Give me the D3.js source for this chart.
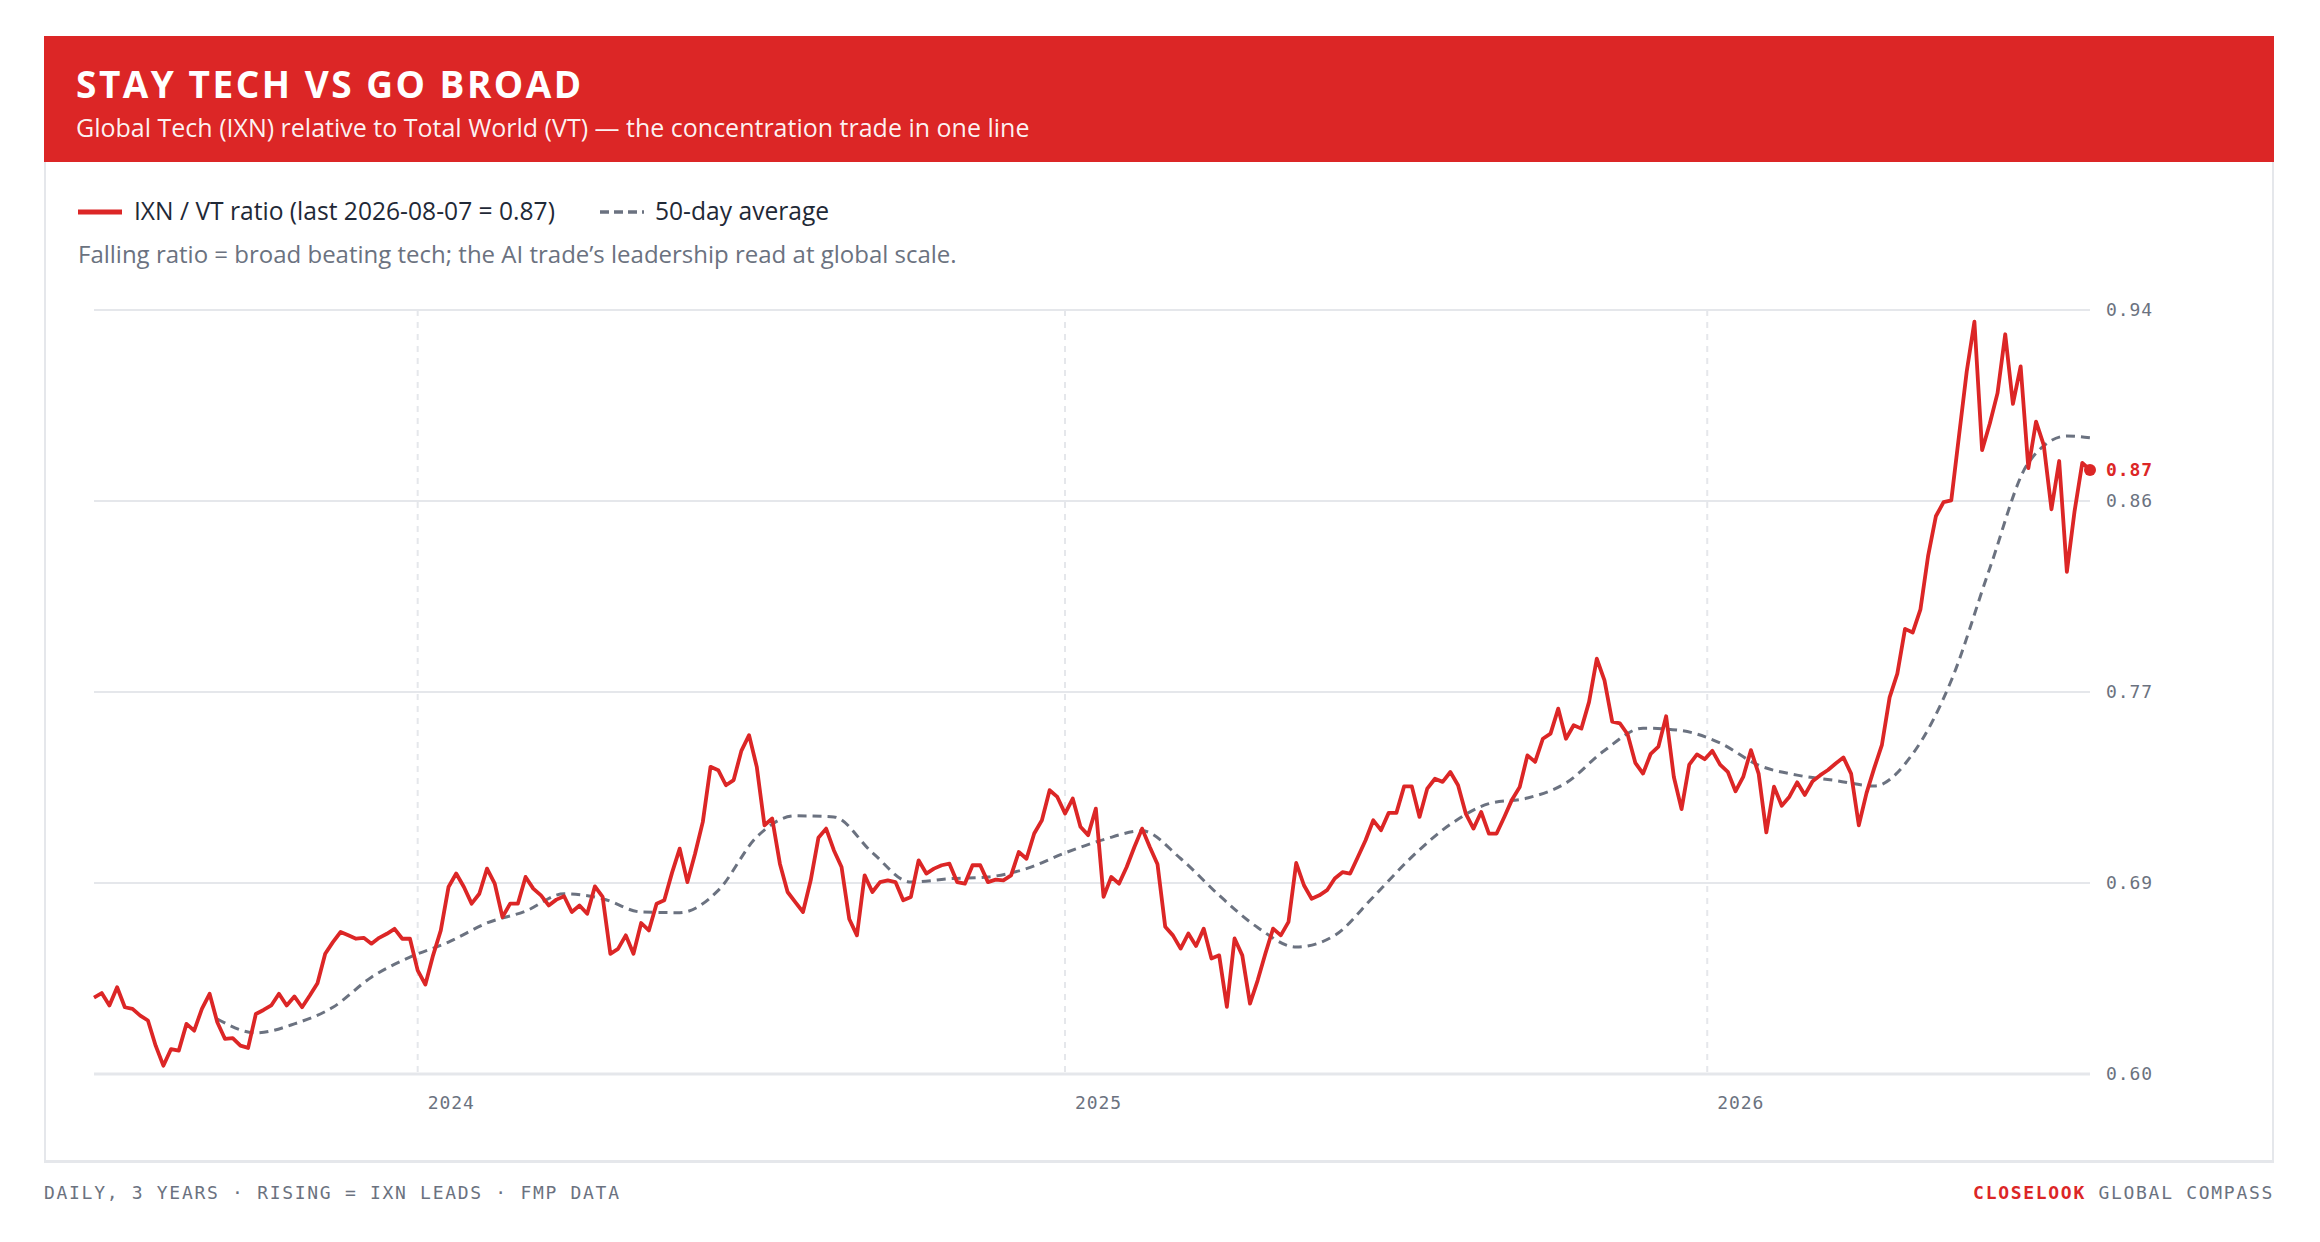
<!DOCTYPE html>
<html><head><meta charset="utf-8">
<script src="https://cdn.jsdelivr.net/npm/d3@7"></script>
<style>
html,body{margin:0;padding:0;background:#fff;}
svg{display:block;}
</style></head><body>
<svg id="chart" width="2320" height="1242"></svg>
<script>
// ---------- DATA ----------
const titleText = "STAY TECH VS GO BROAD";
const subtitleText = "Global Tech (IXN) relative to Total World (VT) \u2014 the concentration trade in one line";
const legendRatio = "IXN / VT ratio (last 2026-08-07 = 0.87)";
const legendMA = "50-day average";
const noteText = "Falling ratio = broad beating tech; the AI trade\u2019s leadership read at global scale.";
const footerLeft = "DAILY, 3 YEARS \u00b7 RISING = IXN LEADS \u00b7 FMP DATA";
const brandRed = "CLOSELOOK";
const brandRest = " GLOBAL COMPASS";

const totalTradingDays = 777;          // last trading-day index (2026-08-07)
const ratioStepDays = 3;               // one reading every 3 trading days
const ratioValues = [
0.634,0.636,0.6305,0.6386,0.6297,0.629,0.626,0.6238,0.6126,0.6037,
0.6111,0.6104,0.6223,0.6193,0.629,0.6357,0.623,0.6156,0.616,0.6126,
0.6116,0.6267,0.6285,0.6305,0.6357,0.6305,0.6345,0.6297,0.6349,0.6404,
0.6535,0.6587,0.6632,0.6617,0.6602,0.6606,0.658,0.6606,0.6624,0.6646,
0.6602,0.6602,0.6461,0.6398,0.6528,0.6639,0.6832,0.6892,0.6832,0.6758,
0.6802,0.6914,0.6847,0.6698,0.6758,0.6758,0.6877,0.6825,0.6795,0.675,
0.6776,0.6791,0.6721,0.675,0.6713,0.6835,0.6788,0.6535,0.6557,0.6617,
0.6535,0.6672,0.6639,0.6758,0.6773,0.6895,0.7003,0.6854,0.6981,0.7122,
0.7367,0.7352,0.7285,0.7308,0.7438,0.7508,0.7367,0.7107,0.7137,0.6936,
0.681,0.6765,0.6721,0.6862,0.7051,0.7092,0.6996,0.6921,0.669,0.6617,
0.6884,0.681,0.6854,0.6862,0.6854,0.6773,0.6788,0.6951,0.6892,0.6914,
0.6929,0.6936,0.6854,0.6847,0.6929,0.6929,0.6854,0.6865,0.6862,0.6884,
0.6988,0.6958,0.707,0.7129,0.7263,0.7233,0.7159,0.7226,0.71,0.7063,
0.7181,0.6788,0.6877,0.6847,0.6921,0.701,0.7092,0.701,0.6933,0.6655,
0.6617,0.6558,0.6625,0.657,0.6647,0.6514,0.6528,0.6299,0.6603,0.6528,
0.6313,0.6417,0.6536,0.6647,0.6617,0.6677,0.6939,0.684,0.678,0.6795,
0.6818,0.687,0.6898,0.6892,0.6966,0.704,0.7129,0.7085,0.7162,0.7162,
0.728,0.728,0.7144,0.727,0.7314,0.73,0.7344,0.7285,0.7159,0.7092,
0.7166,0.707,0.707,0.7144,0.7221,0.7277,0.7418,0.7389,0.7492,0.7515,
0.7626,0.7492,0.7552,0.7537,0.7656,0.7848,0.7752,0.7568,0.756,0.7512,
0.7385,0.7337,0.7425,0.7457,0.7592,0.7322,0.7179,0.7377,0.7422,0.7401,
0.7438,0.7377,0.7345,0.7258,0.7322,0.7441,0.7337,0.7075,0.7279,0.7194,
0.7234,0.7298,0.7242,0.7303,0.733,0.7353,0.7382,0.7409,0.7337,0.7107,
0.725,0.7361,0.7465,0.7676,0.7782,0.7981,0.7965,0.8068,0.8307,0.8482,
0.8545,0.8553,0.8839,0.9125,0.9348,0.8776,0.8895,0.903,0.9292,0.8982,
0.9149,0.8696,0.8903,0.8799,0.8513,0.8728,0.8235,0.8505,0.872,0.8688
];

const maDays = [48,63,78,93,108,123,138,153,168,183,198,213,228,243,258,273,288,303,318,333,
348,363,378,393,408,423,438,453,468,483,498,513,528,543,558,573,588,603,618,633,
648,663,678,693,708,723,738,753,768,777];
const maValues = [0.6245,0.6183,0.6223,0.6297,0.6431,0.652,0.6587,0.6672,0.6725,0.6802,
0.678,0.6721,0.6718,0.6817,0.7055,0.7149,0.7144,0.6985,0.6854,0.6869,
0.6877,0.6914,0.6984,0.7043,0.7082,0.6959,0.6795,0.6652,0.6565,0.6617,
0.6788,0.6966,0.7111,0.7203,0.7228,0.7295,0.744,0.7539,0.7528,0.7473,
0.7374,0.733,0.7306,0.7282,0.7425,0.7751,0.8251,0.872,0.8839,0.8831];

const yearLabels = ["2024","2025","2026"];
const yearStartDays = [126,378,628];    // first trading day of each year
const yDomain = [0.60, 0.94];
const yTickValues = [0.60, 0.685, 0.77, 0.855, 0.94];
const yTickLabels = ["0.60","0.69","0.77","0.86","0.94"];
const lastLabel = "0.87";

// ---------- STYLE ----------
const RED = "#dc2626", GRAY = "#6b7280", GRID = "#e5e7eb", INK = "#1f2937";
const SANS = "'Open Sans', 'Noto Sans', sans-serif";
const MONO = "'DejaVu Sans Mono', monospace";

const svg = d3.select("#chart");

// card
svg.append("rect").attr("x",45).attr("y",37).attr("width",2228).attr("height",1124)
  .attr("fill","#fff").attr("stroke",GRID).attr("stroke-width",2);
svg.append("line").attr("x1",44).attr("x2",2274).attr("y1",1161.5).attr("y2",1161.5)
  .attr("stroke",GRID).attr("stroke-width",3);
// header
svg.append("rect").attr("x",44).attr("y",36).attr("width",2230).attr("height",126).attr("fill",RED);
svg.append("text").attr("x",76).attr("y",98).text(titleText)
  .attr("font-family",SANS).attr("font-weight",700).attr("font-size",37)
  .attr("letter-spacing","2.5px").attr("fill","#fff");
svg.append("text").attr("x",76).attr("y",137).text(subtitleText)
  .attr("font-family",SANS).attr("font-size",25).attr("fill","#fff").attr("fill-opacity",0.95);

// legend
const lg = svg.append("g");
lg.append("line").attr("x1",78).attr("x2",122).attr("y1",212).attr("y2",212)
  .attr("stroke",RED).attr("stroke-width",5);
lg.append("text").attr("x",134).attr("y",220).text(legendRatio)
  .attr("font-family",SANS).attr("font-size",24.6).attr("fill",INK);
lg.append("line").attr("x1",600).attr("x2",644).attr("y1",212).attr("y2",212)
  .attr("stroke",GRAY).attr("stroke-width",3.5).attr("stroke-dasharray","9 5");
lg.append("text").attr("x",655).attr("y",220).text(legendMA)
  .attr("font-family",SANS).attr("font-size",24.6).attr("fill",INK);
svg.append("text").attr("x",78).attr("y",263).text(noteText)
  .attr("font-family",SANS).attr("font-size",24).attr("fill",GRAY);

// scales
const x = d3.scaleLinear().domain([0,totalTradingDays]).range([94,2090]);
const y = d3.scaleLinear().domain(yDomain).range([1074,310]);

// horizontal grid + labels
const yg = svg.append("g");
yTickValues.forEach((v,i)=>{
  yg.append("line").attr("x1",x(0)).attr("x2",x(totalTradingDays))
    .attr("y1",y(v)).attr("y2",y(v)).attr("stroke",GRID).attr("stroke-width", i===0?3:2);
  yg.append("text").attr("x",x(totalTradingDays)+16).attr("y",y(v)).attr("dy","0.35em")
    .text(yTickLabels[i]).attr("font-family",MONO).attr("font-size",18)
    .attr("letter-spacing","0.9px").attr("fill",GRAY);
});
// year lines + labels
yearStartDays.forEach((d,i)=>{
  svg.append("line").attr("x1",x(d)).attr("x2",x(d)).attr("y1",y(yDomain[1])).attr("y2",y(yDomain[0]))
    .attr("stroke",GRID).attr("stroke-width",2).attr("stroke-dasharray","6 6");
  svg.append("text").attr("x",x(d)+10).attr("y",1109).text(yearLabels[i])
    .attr("font-family",MONO).attr("font-size",18).attr("letter-spacing","0.9px").attr("fill",GRAY);
});

// series
const ratio = ratioValues.map((v,i)=>({day:i*ratioStepDays, v}));
const ma = maValues.map((v,i)=>({day:maDays[i], v}));

svg.append("path").datum(ma)
  .attr("d", d3.line().x(d=>x(d.day)).y(d=>y(d.v)).curve(d3.curveMonotoneX))
  .attr("fill","none").attr("stroke",GRAY).attr("stroke-width",3)
  .attr("stroke-dasharray","9 6");

svg.append("path").datum(ratio)
  .attr("d", d3.line().x(d=>x(d.day)).y(d=>y(d.v)))
  .attr("fill","none").attr("stroke",RED).attr("stroke-width",3.8)
  .attr("stroke-linejoin","round");

const last = ratio[ratio.length-1];
svg.append("circle").attr("cx",x(last.day)).attr("cy",y(last.v)).attr("r",6).attr("fill",RED);
svg.append("text").attr("x",x(totalTradingDays)+16).attr("y",y(last.v)).attr("dy","0.35em")
  .text(lastLabel).attr("font-family",MONO).attr("font-size",18).attr("font-weight",700)
  .attr("letter-spacing","0.9px").attr("fill",RED);

// footer
svg.append("text").attr("x",44).attr("y",1199).text(footerLeft)
  .attr("font-family",MONO).attr("font-size",18).attr("letter-spacing","1.7px").attr("fill",GRAY);
const fr = svg.append("text").attr("x",2274).attr("y",1199).attr("text-anchor","end")
  .attr("font-family",MONO).attr("font-size",18).attr("letter-spacing","1.7px").attr("fill",GRAY);
fr.append("tspan").text(brandRed).attr("fill",RED).attr("font-weight",700);
fr.append("tspan").text(brandRest);
</script>
</body></html>
